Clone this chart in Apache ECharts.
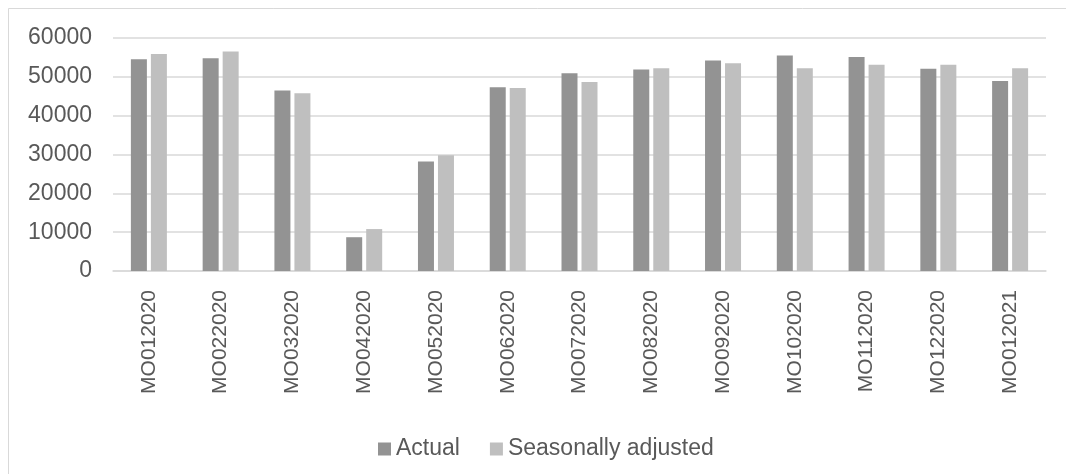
<!DOCTYPE html>
<html>
<head>
<meta charset="utf-8">
<script src="https://cdn.jsdelivr.net/npm/echarts@6/dist/echarts.min.js"></script>
<style>
html,body{margin:0;padding:0;background:#fff;}
#chart{width:1066px;height:474px;}
</style>
</head>
<body>
<div id="chart"></div>
<script>
const categories = ["MO012020","MO022020","MO032020","MO042020","MO052020","MO062020","MO072020","MO082020","MO092020","MO102020","MO112020","MO122020","MO012021"];
const actual = [54500, 54800, 46500, 8700, 28200, 47300, 50900, 51900, 54200, 55500, 55100, 52100, 48900];
const seasonallyAdjusted = [55900, 56500, 45800, 10800, 29800, 47100, 48700, 52200, 53500, 52200, 53100, 53100, 52200];
const yTicks = { min: 0, max: 60000, interval: 10000 };

const chart = echarts.init(document.getElementById('chart'), null, {renderer: 'canvas'});
const font = '"Liberation Sans", Arial, sans-serif';
chart.setOption({
  animation: false,
  backgroundColor: '#ffffff',
  graphic: [{
    type: 'rect',
    shape: {x: 8.5, y: 8.5, width: 1080, height: 490},
    style: {fill: 'none', stroke: '#d9d9d9', lineWidth: 1},
    silent: true
  }],
  grid: {left: 113, right: 20, top: 38, bottom: 203, containLabel: false},
  legend: {
    left: 373,
    top: 432,
    itemWidth: 13,
    itemHeight: 13,
    itemGap: 30,
    icon: 'rect',
    textStyle: {fontFamily: font, fontSize: 23, color: '#595959', lineHeight: 24},
    data: ['Actual', 'Seasonally adjusted']
  },
  xAxis: {
    type: 'category',
    data: categories,
    axisLine: {show: true, lineStyle: {color: '#d9d9d9', width: 1.5}},
    axisTick: {show: false},
    axisLabel: {rotate: 90, margin: 19, fontFamily: font, fontSize: 21, color: '#595959', interval: 0}
  },
  yAxis: {
    type: 'value',
    min: yTicks.min,
    max: yTicks.max,
    interval: yTicks.interval,
    axisLine: {show: false},
    axisTick: {show: false},
    splitLine: {lineStyle: {color: '#d9d9d9', width: 1.5}},
    axisLabel: {margin: 21, fontFamily: font, fontSize: 23, color: '#595959', formatter: v => String(v)}
  },
  series: [
    {name: 'Actual', type: 'bar', data: actual, barWidth: 16, barGap: '25%', itemStyle: {color: '#939393'}},
    {name: 'Seasonally adjusted', type: 'bar', data: seasonallyAdjusted, barWidth: 16, itemStyle: {color: '#bfbfbf'}}
  ]
});
</script>
</body>
</html>
